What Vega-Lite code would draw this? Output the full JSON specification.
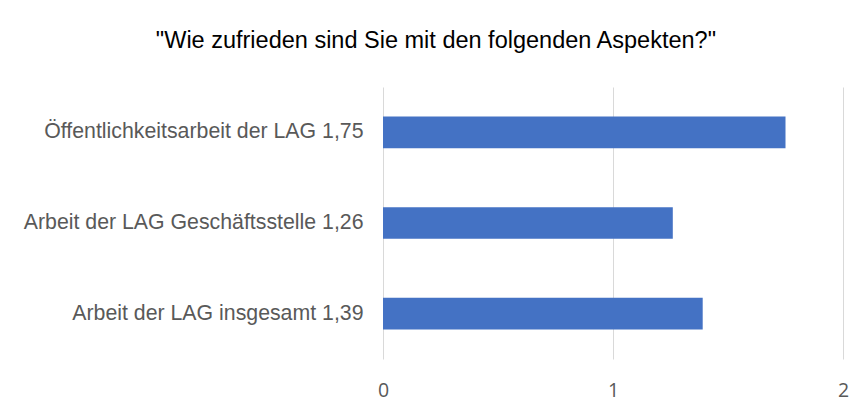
{
  "$schema": "https://vega.github.io/schema/vega-lite/v6.json",
  "width": 460,
  "height": 272,
  "autosize": "none",
  "padding": {"left": 383, "top": 87, "right": 24, "bottom": 55},
  "background": "white",
  "title": {
    "text": "\"Wie zufrieden sind Sie mit den folgenden Aspekten?\"",
    "frame": "bounds",
    "anchor": "middle",
    "font": "Liberation Sans",
    "fontSize": 23.5,
    "fontWeight": "normal",
    "color": "#000000",
    "offset": 35
  },
  "data": {
    "values": [
      {"label": "Öffentlichkeitsarbeit der LAG 1,75", "value": 1.75},
      {"label": "Arbeit der LAG Geschäftsstelle 1,26", "value": 1.26},
      {"label": "Arbeit der LAG insgesamt 1,39", "value": 1.39}
    ]
  },
  "mark": {"type": "bar", "color": "#4472C4"},
  "encoding": {
    "y": {
      "field": "label",
      "type": "nominal",
      "sort": null,
      "scale": {"paddingInner": 0.65, "paddingOuter": 0.325},
      "axis": {
        "title": null,
        "domain": false,
        "ticks": false,
        "grid": false,
        "labelFont": "Liberation Sans",
        "labelFontSize": 21.3,
        "labelColor": "#595959",
        "labelPadding": 20,
        "labelLimit": 500
      }
    },
    "x": {
      "field": "value",
      "type": "quantitative",
      "scale": {"domain": [0, 2], "nice": false},
      "axis": {
        "title": null,
        "values": [0, 1, 2],
        "format": ".0f",
        "domain": false,
        "ticks": false,
        "grid": true,
        "gridColor": "#d9d9d9",
        "gridWidth": 1,
        "labelOverlap": false,
        "labelFlush": false,
        "labelFont": "Open Sans",
        "labelFontSize": 19.5,
        "labelColor": "#595959",
        "labelPadding": 31,
        "labelBaseline": "middle"
      }
    }
  },
  "config": {"view": {"stroke": null}}
}
